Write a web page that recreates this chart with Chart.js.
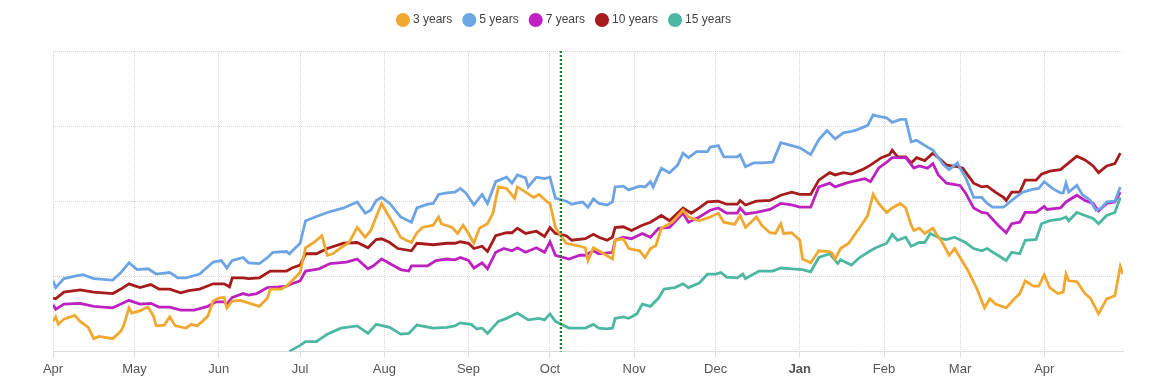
<!DOCTYPE html>
<html>
<head>
<meta charset="utf-8">
<script src="https://cdn.jsdelivr.net/npm/chart.js@4"></script>
<style>
  html, body { margin: 0; padding: 0; background: #fff; }
  #wrap { width: 1159px; height: 388px; }
</style>
</head>
<body>
<div id="wrap"><canvas id="yieldchart"></canvas></div>
<script>
// x values are days since Apr 1; y values in chart units (one gridline = 1)
var monthDays = [0, 30, 61, 91, 122, 153, 183, 214, 244, 275, 306, 334, 365];
var monthLabels = ['Apr', 'May', 'Jun', 'Jul', 'Aug', 'Sep', 'Oct', 'Nov', 'Dec', 'Jan', 'Feb', 'Mar', 'Apr'];
var markerDay = 187;

var days3y = [0,1,2,4,8,10,13,15,17,22,25,26,28,29,32,35,37,38,41,43,45,49,51,53,55,57,59,61,63,64,66,69,76,79,80,84,86,88,91,93,96,99,101,103,106,109,112,115,117,118,121,123,125,128,130,132,134,136,140,142,143,147,149,151,153,155,157,160,162,164,167,170,171,174,177,179,182,183,185,187,189,193,196,197,199,201,206,207,210,212,216,218,220,222,224,228,232,234,238,242,245,247,251,253,255,259,261,264,266,268,269,272,275,276,279,282,286,287,288,290,293,298,300,302,304,307,309,312,314,316,317,319,321,324,326,327,330,332,334,337,340,343,345,347,351,354,356,358,361,363,365,367,370,372,373,374,377,380,382,385,388,391,393,394];
var yield3y = [.40,.46,.36,.43,.48,.40,.32,.17,.20,.17,.27,.34,.58,.51,.54,.59,.47,.34,.35,.46,.34,.31,.36,.34,.40,.47,.67,.71,.72,.58,.67,.68,.60,.71,.83,.83,.87,.94,1.05,1.38,1.45,1.54,1.28,1.30,1.38,1.45,1.65,1.52,1.61,1.70,1.97,1.84,1.72,1.52,1.48,1.45,1.58,1.65,1.68,1.79,1.70,1.65,1.57,1.68,1.57,1.44,1.64,1.70,1.84,2.19,2.17,2.04,2.19,2.12,2.05,2.09,1.99,1.97,1.65,1.54,1.44,1.41,1.38,1.21,1.38,1.34,1.23,1.48,1.50,1.37,1.34,1.25,1.37,1.41,1.64,1.72,1.88,1.79,1.74,1.79,1.84,1.72,1.69,1.81,1.65,1.79,1.68,1.58,1.57,1.70,1.57,1.58,1.48,1.23,1.18,1.34,1.33,1.30,1.23,1.37,1.44,1.70,1.81,2.09,1.97,1.85,1.91,1.97,1.91,1.68,1.61,1.64,1.57,1.64,1.52,1.48,1.28,1.37,1.25,1.07,.85,.58,.70,.63,.58,.70,.77,.94,.87,.87,1.02,.85,.77,.79,1.03,.94,.93,.77,.71,.50,.70,.74,1.13,1.03];

var days5y = [0,1,4,9,11,15,22,25,28,31,35,38,43,46,49,54,59,62,64,66,70,72,76,79,81,86,87,91,93,98,101,107,112,115,117,119,121,124,128,132,134,138,140,142,145,148,150,152,155,158,160,163,167,169,171,174,175,178,181,183,185,189,191,195,197,199,201,204,206,207,210,212,216,218,220,221,224,227,230,232,234,237,241,242,245,247,252,253,255,258,261,265,268,271,275,279,282,285,288,291,294,296,300,302,304,307,309,312,314,316,318,322,324,328,330,333,334,336,339,342,344,346,350,351,353,357,361,363,365,368,371,372,373,374,377,379,382,384,386,388,391,393];
var yield5y = [.94,.85,.97,1.01,1.02,.97,.95,1.05,1.18,1.09,1.10,1.03,1.05,.98,.98,1.03,1.19,1.21,1.11,1.21,1.25,1.18,1.17,1.25,1.32,1.33,1.30,1.44,1.74,1.81,1.85,1.91,1.99,1.84,1.88,2.01,2.05,1.97,1.79,1.72,1.91,1.96,1.97,2.09,2.11,2.12,2.17,2.11,1.95,2.09,1.97,2.26,2.32,2.24,2.35,2.31,2.19,2.32,2.30,2.32,2.04,2.00,1.96,1.99,1.92,2.03,1.97,1.95,1.99,2.19,2.20,2.15,2.20,2.19,2.26,2.19,2.44,2.38,2.48,2.64,2.58,2.66,2.66,2.72,2.74,2.59,2.59,2.62,2.46,2.51,2.51,2.52,2.78,2.75,2.71,2.62,2.82,2.94,2.83,2.91,2.93,2.95,3.01,3.15,3.13,3.11,3.05,3.09,3.09,2.79,2.81,2.72,2.68,2.48,2.42,2.51,2.44,2.32,2.05,2.05,1.97,1.92,1.92,1.95,2.01,2.12,2.16,2.17,2.26,2.17,2.11,2.11,2.24,2.12,2.21,2.09,2.01,1.88,1.91,1.99,2.00,2.19];

var days7y = [0,1,4,10,15,22,25,28,32,36,39,43,47,52,57,60,63,64,66,70,72,75,79,83,86,88,91,93,98,102,108,112,116,118,121,125,128,131,132,138,141,145,148,150,153,155,158,160,163,166,169,171,174,178,181,183,185,190,194,196,199,201,206,207,210,213,217,220,223,227,232,234,238,242,245,248,252,253,255,259,264,268,272,275,279,282,286,288,292,294,299,301,304,307,309,311,314,317,319,322,324,326,329,334,336,339,342,344,348,351,353,356,358,362,365,366,371,373,377,380,383,385,388,391,393];
var yield7y = [.62,.56,.63,.64,.60,.58,.63,.68,.63,.64,.59,.59,.55,.55,.60,.66,.66,.63,.72,.77,.75,.77,.85,.86,.87,.90,.94,1.07,1.10,1.17,1.19,1.23,1.10,1.14,1.23,1.15,1.09,1.07,1.14,1.14,1.21,1.23,1.22,1.25,1.21,1.11,1.18,1.10,1.32,1.37,1.34,1.38,1.32,1.38,1.32,1.46,1.28,1.23,1.28,1.28,1.34,1.30,1.32,1.48,1.52,1.50,1.57,1.52,1.64,1.65,1.84,1.72,1.79,1.88,1.91,1.84,1.84,1.91,1.83,1.85,1.89,1.97,1.95,1.92,1.92,2.19,2.24,2.19,2.24,2.26,2.30,2.26,2.44,2.52,2.58,2.58,2.58,2.44,2.47,2.44,2.50,2.35,2.24,2.21,2.11,1.91,1.85,1.84,1.68,1.58,1.70,1.72,1.85,1.85,1.93,1.89,1.91,1.99,2.08,2.01,1.97,1.87,1.97,1.99,2.12];

var days10y = [0,1,4,10,15,22,25,28,32,36,39,43,47,50,54,59,63,65,66,70,72,76,80,86,88,91,93,97,101,107,112,116,119,121,124,127,132,134,140,145,148,150,153,155,158,160,163,167,169,171,174,178,181,183,185,189,191,196,199,201,204,206,207,210,213,217,220,224,227,232,235,238,241,245,248,252,253,255,259,264,268,272,275,279,282,286,288,291,294,298,301,305,308,309,311,314,316,318,321,324,326,329,333,335,339,342,344,347,350,351,353,356,358,362,364,367,371,373,377,380,383,385,388,391,393];
var yield10y = [.71,.70,.79,.82,.79,.77,.83,.90,.85,.89,.83,.83,.78,.81,.83,.90,.90,.86,.98,.98,.97,.98,1.07,1.07,1.11,1.15,1.30,1.30,1.37,1.44,1.45,1.38,1.49,1.50,1.45,1.37,1.34,1.44,1.42,1.44,1.44,1.46,1.44,1.37,1.40,1.33,1.54,1.58,1.58,1.64,1.57,1.60,1.53,1.65,1.57,1.54,1.48,1.50,1.56,1.52,1.48,1.52,1.65,1.66,1.61,1.68,1.72,1.81,1.74,1.91,1.84,1.91,1.99,2.00,1.96,1.96,2.01,1.95,2.00,2.01,2.08,2.12,2.09,2.09,2.28,2.38,2.35,2.38,2.36,2.42,2.48,2.58,2.62,2.68,2.59,2.59,2.51,2.58,2.54,2.64,2.58,2.48,2.46,2.44,2.24,2.19,2.20,2.12,2.05,2.01,2.12,2.12,2.28,2.28,2.36,2.40,2.42,2.48,2.60,2.55,2.47,2.38,2.47,2.50,2.64];

var days15y = [87,91,93,97,101,106,108,112,116,119,124,128,131,134,140,145,148,150,154,156,158,160,164,167,171,175,179,181,183,185,190,196,199,201,204,206,207,210,212,215,217,220,223,225,229,232,234,238,241,244,246,248,252,254,255,260,265,268,272,276,279,282,286,289,290,294,297,301,303,307,309,311,314,316,319,321,323,327,329,332,336,339,342,344,347,351,353,356,358,362,364,367,371,373,374,377,380,383,385,388,391,393];
var yield15y = [0,.08,.13,.13,.23,.31,.32,.34,.24,.36,.32,.23,.24,.35,.31,.32,.34,.38,.36,.30,.31,.24,.40,.44,.51,.42,.44,.42,.50,.40,.31,.31,.36,.31,.30,.31,.44,.46,.44,.50,.63,.60,.71,.83,.85,.90,.85,.91,1.03,1.03,1.05,.99,.98,1.03,.97,1.07,1.07,1.11,1.10,1.09,1.06,1.25,1.30,1.17,1.22,1.15,1.25,1.34,1.38,1.44,1.56,1.48,1.52,1.40,1.45,1.45,1.57,1.50,1.49,1.52,1.45,1.37,1.34,1.37,1.30,1.21,1.32,1.30,1.48,1.49,1.70,1.74,1.76,1.79,1.74,1.85,1.81,1.77,1.70,1.81,1.85,2.05];

var fontFamily = '"Liberation Sans", Arial, sans-serif';

function points(days, vals) {
  return days.map(function (d, i) { return { x: d, y: vals[i] }; });
}

function series(label, color, days, vals) {
  return {
    label: label,
    data: points(days, vals),
    borderColor: color,
    backgroundColor: color,
    borderWidth: 2.8,
    pointRadius: 0,
    pointHoverRadius: 0,
    tension: 0
  };
}

// dotted vertical marker
var markerLine = {
  id: 'markerLine',
  afterDatasetsDraw: function (chart) {
    var ctx = chart.ctx;
    var area = chart.chartArea;
    var px = chart.scales.x.getPixelForValue(markerDay);
    ctx.save();
    ctx.strokeStyle = '#1e7b1e';
    ctx.lineWidth = 2.2;
    ctx.setLineDash([2, 2]);
    ctx.beginPath();
    ctx.moveTo(px, area.top);
    ctx.lineTo(px, area.bottom);
    ctx.stroke();
    ctx.restore();
  }
};

// extra room under the legend, and legend a bit left of the plot centre
var legendGap = {
  id: 'legendGap',
  beforeInit: function (chart) {
    var fit = chart.legend.fit;
    chart.legend.fit = function () {
      fit.bind(chart.legend)();
      this.height += 15;
    };
  },
  afterLayout: function (chart) {
    chart.legend.left -= 23;
    chart.legend.right -= 23;
  }
};

var ctx = document.querySelector('#yieldchart').getContext('2d');

var myChart = new Chart(ctx, {
  type: 'line',
  data: {
    datasets: [
      series('3 years', '#f0a830', days3y, yield3y),
      series('5 years', '#6ca4e4', days5y, yield5y),
      series('7 years', '#bd22c0', days7y, yield7y),
      series('10 years', '#a61b1b', days10y, yield10y),
      series('15 years', '#4db8a2', days15y, yield15y)
    ]
  },
  options: {
    responsive: true,
    maintainAspectRatio: false,
    animation: false,
    layout: { padding: { left: 53, right: 36, top: 1, bottom: 7 } },
    plugins: {
      legend: {
        display: true,
        position: 'top',
        labels: {
          usePointStyle: true,
          pointStyle: 'circle',
          boxWidth: 8,
          boxHeight: 8,
          padding: 13,
          color: '#444',
          font: { family: fontFamily, size: 12 }
        }
      },
      tooltip: { enabled: false }
    },
    scales: {
      x: {
        type: 'linear',
        min: 0,
        max: 394,
        afterBuildTicks: function (scale) {
          scale.ticks = monthDays.map(function (d) { return { value: d }; });
        },
        ticks: {
          autoSkip: false,
          maxRotation: 0,
          color: '#555',
          padding: 4,
          font: function (c) {
            var lab = c.tick ? monthLabels[monthDays.indexOf(c.tick.value)] : '';
            return { family: fontFamily, size: 13, weight: lab === 'Jan' ? 'bold' : 'normal' };
          },
          callback: function (value) {
            var i = monthDays.indexOf(value);
            return i >= 0 ? monthLabels[i] : '';
          }
        },
        grid: {
          color: '#d6d6d6',
          drawTicks: true,
          tickLength: 6,
          tickColor: '#dcdcdc',
          tickBorderDash: []
        },
        border: { display: true, color: '#dcdcdc', width: 1, dash: [1, 1] }
      },
      y: {
        min: 0,
        max: 4,
        ticks: { display: false, stepSize: 1 },
        grid: { color: '#d6d6d6', drawTicks: false },
        border: { display: false, dash: [1, 1] }
      }
    }
  },
  plugins: [markerLine, legendGap]
});
</script>
</body>
</html>
